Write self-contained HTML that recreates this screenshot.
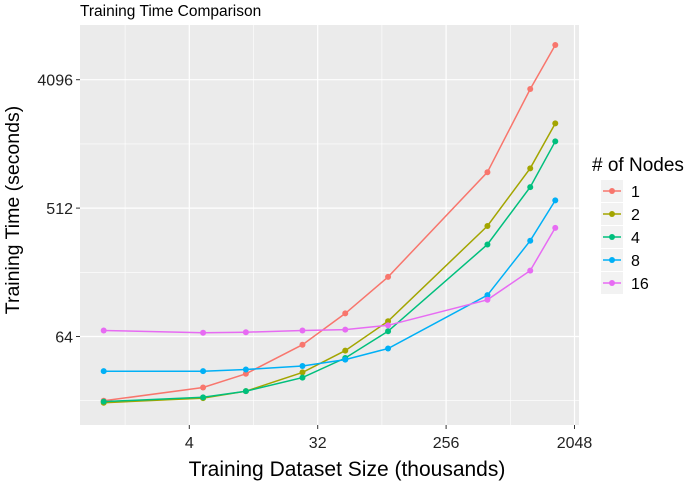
<!DOCTYPE html>
<html><head><meta charset="utf-8"><style>
html,body{margin:0;padding:0;background:#fff;overflow:hidden;}
svg{display:block;font-family:"Liberation Sans",Arial,sans-serif;}
</style></head><body>
<svg id="chart" width="685" height="486" viewBox="0 0 685 486">
<text x="80" y="16" font-size="15.5" fill="#000">Training Time Comparison</text>
<rect x="80" y="25" width="499" height="400" fill="#ebebeb"/>
<g id="grid"></g>
<g id="series"></g>
<g id="axes"></g>
<text x="347" y="476" font-size="21" text-anchor="middle" fill="#000">Training Dataset Size (thousands)</text>
<text transform="translate(19,210) rotate(-90)" font-size="19.5" text-anchor="middle" fill="#000">Training Time (seconds)</text>
<g id="legend">
<text x="592" y="171" font-size="19" fill="#000"># of Nodes</text>
</g>
</svg>
<script>
const xValues = [1, 5, 10, 25, 50, 100, 500, 1000, 1500];
const seriesNames = ["1", "2", "4", "8", "16"];
const seriesColors = ["#F8766D", "#A3A500", "#00BF7D", "#00B0F6", "#E76BF3"];
const nodes1 = [22.6, 28, 35, 56, 93, 168, 915, 3520, 7180];
const nodes2 = [21.9, 23.6, 26.4, 35.8, 50.9, 82, 383, 975, 2020];
const nodes4 = [22.3, 23.9, 26.4, 32.9, 45.2, 69.7, 284, 719, 1510];
const nodes8 = [36.5, 36.5, 37.5, 39.7, 44, 52.7, 125, 302, 580];
const nodes16 = [70.5, 68, 68.6, 70.5, 71.6, 76.7, 116, 186, 372];
const xTicks = [4, 32, 256, 2048];
const xTickLabels = ["4", "32", "256", "2048"];
const yTicks = [64, 512, 4096];
const yTickLabels = ["64", "512", "4096"];
const allSeries = [nodes1, nodes2, nodes4, nodes8, nodes16];

const NS = "http://www.w3.org/2000/svg";
const PL = 80, PR = 579, PT = 25, PB = 425;
function xs(v){ return 189.3 + (Math.log2(v) - 2) * 42.8; }
function ys(v){ return 336.5 - (Math.log2(v) - 6) * 42.8; }
function mk(tag, attrs, parent){
  const e = document.createElementNS(NS, tag);
  for (const k in attrs) e.setAttribute(k, attrs[k]);
  parent.appendChild(e); return e;
}
const grid = document.getElementById("grid");
const axes = document.getElementById("axes");
for (let i = 0; i < xTicks.length; i++) {
  const mv = xTicks[i] / Math.pow(2, 1.5);
  const l = mk("line", {x1: xs(mv), x2: xs(mv), y1: PT, y2: PB, stroke: "#fff", "stroke-width": 0.6}, grid);
  
  
}
for (let i = 0; i < yTicks.length; i++) {
  const mv = yTicks[i] / Math.pow(2, 1.5);
  const l = mk("line", {x1: PL, x2: PR, y1: ys(mv), y2: ys(mv), stroke: "#fff", "stroke-width": 0.6}, grid);
  
  
}
xTicks.forEach((t, i) => {
  const x = xs(t);
  const g = mk("line", {x1: x, x2: x, y1: PT, y2: PB, stroke: "#fff", "stroke-width": 1.2}, grid);
  
  
  const tk = mk("line", {x1: x, x2: x, y1: PB, y2: PB + 4, stroke: "#333", "stroke-width": 1}, axes);
  
  
  const tx = mk("text", {x: x, y: 448, "font-size": 16, "text-anchor": "middle", fill: "#222"}, axes);
  tx.textContent = xTickLabels[i];
  
  
});
yTicks.forEach((t, i) => {
  const y = ys(t);
  const g = mk("line", {x1: PL, x2: PR, y1: y, y2: y, stroke: "#fff", "stroke-width": 1.2}, grid);
  
  
  const tk = mk("line", {x1: PL - 4, x2: PL, y1: y, y2: y, stroke: "#333", "stroke-width": 1}, axes);
  
  
  const tx = mk("text", {x: PL - 7, y: y + 6, "font-size": 16, "text-anchor": "end", fill: "#222"}, axes);
  tx.textContent = yTickLabels[i];
  
  
});
const sg = document.getElementById("series");
allSeries.forEach((vals, si) => {
  const col = seriesColors[si];
  const pts = vals.map((v, i) => xs(xValues[i]).toFixed(1) + "," + ys(v).toFixed(1)).join(" ");
  const pl = mk("polyline", {points: pts, fill: "none", stroke: col, "stroke-width": 1.5}, sg);
  
  
  vals.forEach((v, i) => {
    const c = mk("circle", {cx: xs(xValues[i]), cy: ys(v), r: 3, fill: col}, sg);
    
    
  });
});
const lg = document.getElementById("legend");
seriesNames.forEach((n, i) => {
  const y0 = 180 + i * 23;
  const r = mk("rect", {x: 601, y: y0, width: 22, height: 22, fill: "#f2f2f2"}, lg);
  
  
  const l = mk("line", {x1: 603, x2: 621, y1: y0 + 11, y2: y0 + 11, stroke: seriesColors[i], "stroke-width": 1.5}, lg);
  
  
  const c = mk("circle", {cx: 612, cy: y0 + 11, r: 3, fill: seriesColors[i]}, lg);
  
  
  const t = mk("text", {x: 631, y: y0 + 17, "font-size": 16, fill: "#000"}, lg);
  t.textContent = n;
  
  
});
</script>
</body></html>
